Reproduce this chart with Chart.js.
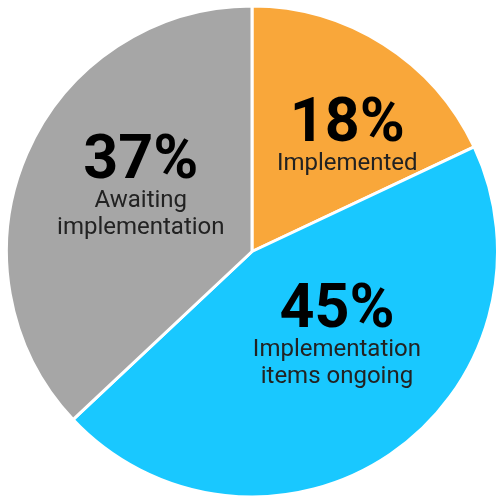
<!DOCTYPE html>
<html>
<head>
<meta charset="utf-8">
<script src="https://cdn.jsdelivr.net/npm/chart.js@4"></script>
<style>
  html, body { margin: 0; padding: 0; background: #fff; }
  #wrap { width: 499px; height: 500px; }
</style>
</head>
<body>
<div id="wrap"><canvas id="myChart"></canvas></div>
<script>
// slice values, in percent, clockwise from 12 o'clock
var categories = ['Implemented', 'Implementation items ongoing', 'Awaiting implementation'];
var values = [18, 45, 37];
var labelLines = [['Implemented'], ['Implementation', 'items ongoing'], ['Awaiting', 'implementation']];
var colors = ['#F9A73A', '#19C8FF', '#A6A6A6'];

// baseline of each percentage, as a fraction of the radius from the centre
var labelSpots = [[0.388, -0.451], [0.346, 0.309], [-0.453, -0.301]];

var pieLabels = {
  id: 'pieLabels',
  afterDatasetsDraw: function(chart) {
    var ctx = chart.ctx;
    var arcs = chart.getDatasetMeta(0).data;
    ctx.save();
    ctx.textAlign = 'center';
    ctx.textBaseline = 'alphabetic';
    arcs.forEach(function(arc, i) {
      var r = arc.outerRadius;
      var cx = arc.x + labelSpots[i][0] * r;
      var base = arc.y + labelSpots[i][1] * r;
      ctx.fillStyle = '#000';
      ctx.font = 'bold 61px Roboto';
      ctx.fillText(values[i] + '%', cx, base);
      ctx.fillStyle = '#222';
      ctx.font = '24px Roboto';
      labelLines[i].forEach(function(l, j) {
        ctx.fillText(l, cx, base + 29 + j * 27);
      });
    });
    ctx.restore();
  }
};

var ctx = document.getElementById('myChart').getContext('2d');
var myPieChart = new Chart(ctx, {
  type: 'pie',
  data: {
    labels: categories,
    datasets: [{
      data: values,
      backgroundColor: colors,
      borderColor: '#fff',
      borderWidth: 3
    }]
  },
  options: {
    responsive: true,
    maintainAspectRatio: false,
    animation: false,
    layout: { padding: { left: 5, right: -4, top: 3, bottom: -1 } },
    plugins: {
      legend: { display: false },
      tooltip: { enabled: false }
    }
  },
  plugins: [pieLabels]
});
</script>
</body>
</html>
